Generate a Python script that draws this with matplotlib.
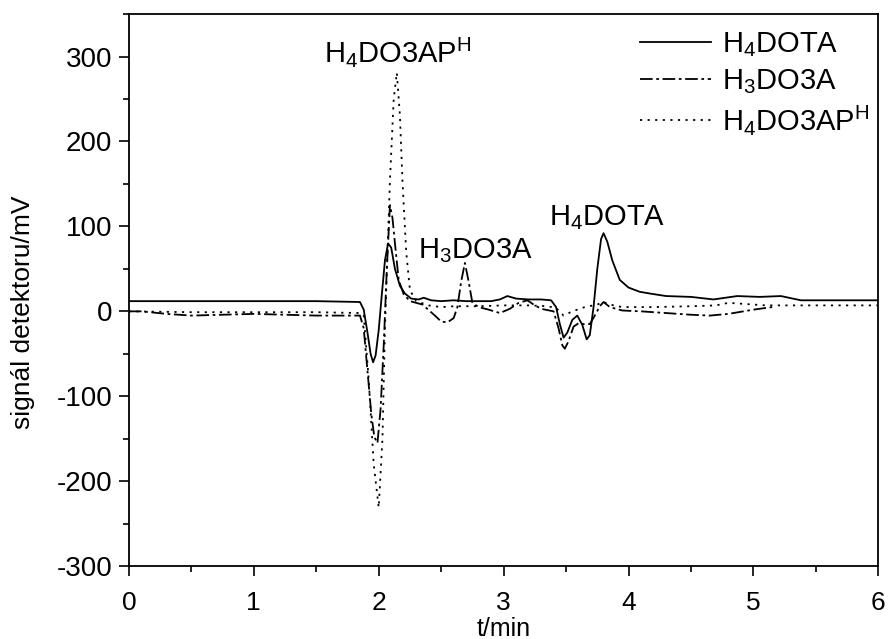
import matplotlib
matplotlib.use('Agg')
import matplotlib.pyplot as plt
from matplotlib.ticker import MultipleLocator

plt.rcParams['font.family'] = ['Liberation Sans', 'DejaVu Sans']
plt.rcParams['mathtext.fontset'] = 'custom'
plt.rcParams['mathtext.rm'] = 'Liberation Sans'
plt.rcParams['mathtext.it'] = 'Liberation Sans:italic'
plt.rcParams['mathtext.bf'] = 'Liberation Sans:bold'
plt.rcParams['axes.unicode_minus'] = False

# H4DOTA (solid)
t_dota = [0, 0.5, 1.0, 1.5, 1.85, 1.88, 1.91, 1.935, 1.955, 1.975, 2.0, 2.025, 2.05,
          2.075, 2.10, 2.13, 2.17, 2.21, 2.26, 2.32, 2.36, 2.42, 2.50, 2.60, 2.70, 2.80,
          2.90, 2.97, 3.03, 3.10, 3.20, 3.30, 3.38, 3.42, 3.45, 3.48, 3.51, 3.55, 3.59,
          3.63, 3.665, 3.69, 3.72, 3.75, 3.78, 3.80, 3.83, 3.87, 3.93, 4.00, 4.09, 4.17,
          4.30, 4.50, 4.68, 4.87, 5.05, 5.22, 5.38, 5.60, 6.0]
y_dota = [12, 12, 12, 12, 11, 2, -25, -50, -60, -52, -22, 20, 60,
          80, 75, 50, 30, 21, 15, 14, 16, 13, 12, 13, 12, 12,
          12, 14, 18, 15, 14, 14, 13, 5, -15, -31, -25, -10, -5,
          -16, -33, -28, 5, 50, 85, 92, 82, 60, 37, 28, 23, 21,
          18, 17, 14, 18, 17, 18, 13, 13, 13]

# H3DO3A (dash-dot)
t_do3a = [0, 0.1, 0.3, 0.5, 1.0, 1.5, 1.85, 1.88, 1.91, 1.94, 1.965, 1.99, 2.015,
          2.04, 2.065, 2.09, 2.11, 2.13, 2.16, 2.20, 2.25, 2.35, 2.45, 2.50, 2.55,
          2.60, 2.63, 2.66, 2.69, 2.72, 2.75, 2.80, 2.88, 2.97, 3.05, 3.12, 3.19,
          3.24, 3.30, 3.40, 3.44, 3.47, 3.49, 3.52, 3.56, 3.60, 3.64, 3.69, 3.73,
          3.77, 3.80, 3.85, 3.95, 4.10, 4.30, 4.50, 4.65, 4.80, 5.00, 5.15]
y_do3a = [0, 0, -3, -5, -3, -5, -5, -20, -70, -120, -148, -155, -115,
          -40, 50, 125, 110, 80, 37, 20, 12, 8, -5, -12, -13,
          -8, 5, 35, 57, 35, 10, 5, 2, -2, 3, 10, 13,
          8, 3, 0, -20, -40, -44, -35, -18, -14, -15, -15, -5,
          6, 11, 5, 1, 0, -2, -4, -5, -3, 2, 5]

# H4DO3AP^H (dotted)
t_dop = [0, 0.5, 1.0, 1.5, 1.85, 1.88, 1.92, 1.96, 2.0, 2.03, 2.05, 2.07, 2.09,
         2.12, 2.145, 2.17, 2.19, 2.22, 2.25, 2.30, 2.40, 2.50, 2.60, 2.80, 3.00,
         3.20, 3.35, 3.42, 3.48, 3.55, 3.65, 3.75, 3.80, 3.85, 3.95, 4.20, 4.50,
         4.70, 4.80, 4.90, 5.10, 5.40, 6.0]
y_dop = [0, -1, -1, -1, -2, -5, -80, -180, -231, -150, -20, 70, 154,
         250, 281, 230, 154, 70, 25, 12, 7, 5, 6, 6, 7,
         7, 6, 4, -5, 0, 5, 8, 11, 8, 5, 5, 6,
         7, 10, 9, 7, 7, 7]

labels = [r'H$_4$DOTA', r'H$_3$DO3A', r'H$_4$DO3AP$^\mathrm{H}$']

fig = plt.figure(figsize=(8.89, 6.39), dpi=100)
ax = fig.add_axes([0.145, 0.114, 0.843, 0.864])

ax.plot(t_dota, y_dota, color='black', lw=1.3, ls='-', label=labels[0])
ax.plot(t_do3a, y_do3a, color='black', lw=1.3, ls=(0, (7, 2, 1.5, 2)), label=labels[1])
ax.plot(t_dop, y_dop, color='black', lw=1.3, ls=(0, (1.2, 3)), label=labels[2])

ax.set_xlim(0, 6)
ax.set_ylim(-300, 350)
ax.xaxis.set_major_locator(MultipleLocator(1))
ax.xaxis.set_minor_locator(MultipleLocator(0.5))
ax.yaxis.set_major_locator(MultipleLocator(100))
ax.yaxis.set_minor_locator(MultipleLocator(50))
ax.tick_params(which='both', direction='out', width=1.2)
ax.tick_params(which='major', length=7)
ax.tick_params(which='minor', length=4.5)
ax.tick_params(axis='y', labelsize=20, pad=5)
ax.tick_params(axis='x', labelsize=19, pad=11)
for s in ax.spines.values():
    s.set_linewidth(1.3)

ax.set_xlabel('t/min', fontsize=18, labelpad=1)
ax.set_ylabel('signál detektoru/mV', fontsize=19)
ax.yaxis.set_label_coords(-0.125, 0.46)

ax.text(2.15, 305, labels[2], fontsize=21, ha='center', va='center')
ax.text(2.77, 72, labels[1], fontsize=21, ha='center', va='center')
ax.text(3.83, 110, labels[0], fontsize=21, ha='center', va='center')

ax.legend(loc='upper left', bbox_to_anchor=(0.682, 0.97), frameon=False, fontsize=21,
          handlelength=2.45, handletextpad=0.35, labelspacing=0.25, borderaxespad=0,
          borderpad=0)

fig.savefig('out.png', dpi=100)
